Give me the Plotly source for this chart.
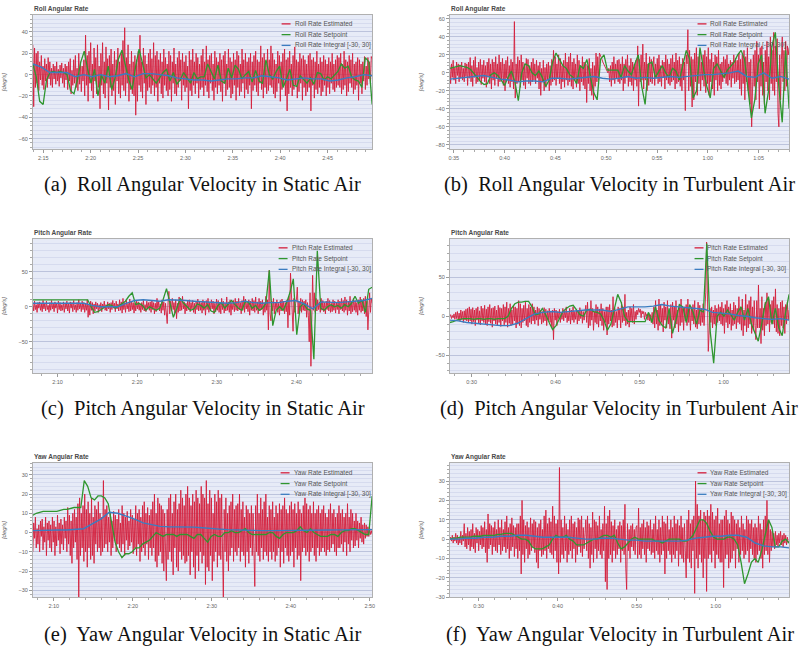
import numpy as np
import plotly.graph_objects as go

W, H = 807, 651

# ------------------------------------------------------------------ data
# (a) roll, static air  -- time in seconds
roll_static_span = [133.9, 169.7]
roll_static_est = [
    28, -30, 25, -12, 20, -8, 22, -15, 12, -5, 18, -10, 8, -14, 15, -6, 10, -12, 16, -4,
    12, -10, 6, -12, 10, -4, 8, -9, 12, -6, 5, -11, 9, -3, 11, -8, 6, -12, 10, -5,
    8, -14, 12, -6, 15, -18, 4, -10, 14, -8, 18, -12, 6, -15, 20, -9, 12, -16, 8, -6,
    14, -20, 37, -10, 18, -25, 22, -8, 30, -15, 10, -22, 25, -6, 16, -18, 28, -12, 8, -32,
    20, -10, 30, -18, 12, -22, 26, -8, 15, -33, 18, -12, 24, -20, 10, -15, 22, -28, 14, -6,
    25, -18, 12, -22, 20, -10, 32, -15, 44, -20, 16, -8, 28, -25, 10, -14, 22, -18, 12, -20,
    18, -38, 14, -25, 22, -10, 37, -16, 12, -22, 25, -8, 18, -28, 10, -15, 20, -12, 24, -18,
    15, -10, 30, -20, 18, -12, 22, -25, 14, -8, 20, -18, 12, -22, 24, -10, 16, -15, 10, -20,
    22, -14, 18, -25, 12, -8, 25, -18, 10, -20, 16, -12, 22, -6, 14, -24, 20, -10, 12, -16,
    18, -12, 8, -32, 22, -15, 14, -20, 24, -10, 12, -18, 20, -8, 16, -22, 10, -14, 18, -12,
    24, -20, 12, -10, 27, -16, 14, -22, 18, -8, 20, -15, 10, -24, 22, -12, 16, -18, 12, -10,
    20, -16, 14, -25, 18, -8, 22, -20, 10, -14, 24, -12, 16, -22, 12, -18, 20, -10, 14, -24,
    22, -12, 18, -20, 10, -16, 24, -8, 14, -22, 20, -14, 12, -18, 16, -10, 20, -32, 12, -15,
    18, -10, 22, -16, 14, -20, 12, -8, 27, -14, 16, -22, 20, -12, 10, -18, 24, -15, 14, -10,
    27, -12, 20, -18, 14, -22, 10, -16, 22, -8, 18, -25, 12, -14, 20, -10, 24, -20, 14, -34,
    16, -18, 22, -12, 10, -20, 18, -14, 26, -10, 14, -22, 12, -16, 20, -8, 15, -24, 18, -12,
    14, -20, 10, -16, 18, -12, 20, -34, 14, -10, 16, -22, 12, -14, 22, -18, 10, -12, 16, -20,
    12, -16, 18, -10, 14, -20, 10, -12, 16, -18, 12, -8, 20, -14, 10, -16, 14, -12, 18, -10,
    16, -12, 20, -18, 10, -14, 22, -10, 14, -20, 12, -16, 18, -8, 14, -12, 20, -18, 10, -14,
    12, -10, 16, -24, 14, -8, 10, -18, 12, -6, 17, -14, 8, -10, 16, -4, 12, -8, 17, 15]
roll_static_sp = [
    10, -2, -25, -28, -5, 2, 3, 2, 3, 2, 0, -15, -18, -5, 12, 22, 5, -8, 5, -20,
    0, -8, 8, -14, -3, 15, 23, 10, -5, -14, 8, 24, 10, -3, 0, -4, -8, -3, 2, 5,
    -6, 2, -9, -5, 2, -3, -8, 2, -4, -2, -2, 10, 3, -4, 9, -6, -8, 6, -3, 9,
    5, -4, 0, 3, -7, 4, -6, -8, 14, 0, -4, 3, 8, -12, -4, 5, -10, -11, -1, -5,
    -8, -3, -9, 2, 1, -5, -2, -4, 0, 3, 10, 6, 8, -2, -5, -6, -12, 16, 12, -28]
roll_static_int = [10, 7, 2, 2, 2, -2, 0, -2, 0, -2, -1, 1, -2, 1, 1, 0, -1, -3, -4, -5, -5,
                   -6, -5, -4, -4, -3, -3, -1, -2, -3, -5, -4, -3, -4, -4, -6, -5, -3, -2, 0, -1]

# (b) roll, turbulent air
roll_turb_span = [34.6, 68.0]
roll_turb_est = [
    8, -12, 10, -5, 14, -8, 6, -12, 12, -3, 10, -10, 9, -6, 12, -8, 5, -10, 11, -4,
    10, -14, 12, -6, 17, -10, 8, -15, 14, -5, 18, -12, 6, -10, 12, -8, 15, -13, 9, -6,
    14, -10, 8, -16, 12, -5, 16, -12, 10, -18, 15, -8, 12, -14, 18, -6, 10, -15, 20, -10,
    12, -8, 16, -14, 10, -20, 14, -6, 18, -12, 8, -16, 15, -10, 12, -18, 57, -28, 10, -12,
    18, -10, 14, -16, 20, -8, 12, -14, 10, -18, 16, -6, 15, -12, 8, -14, 12, -10, 16, -8,
    10, -12, 14, -6, 8, -18, 12, -25, 5, -10, 14, -20, 6, -16, 10, -8, 12, -20, 8, -14,
    15, -10, 25, -8, 18, -14, 10, -6, 20, -12, 16, -18, 8, -10, 14, -16, 22, -8, 12, -14,
    18, -10, 22, -15, 12, -18, 16, -8, 10, -16, 20, -12, 14, -20, 8, -10, 18, -14, 12, -18,
    10, -33, 8, -12, 16, -20, 5, -25, 12, -30, 8, -15, 22, -10, 18, -8, 22, 20, 18, 15,
    12, 10, 8, 6, 4, 2, 0, 5, -10, 8, -15, 12, -8, 18, -12, 10, -6, 14, -10, 15,
    -12, 10, -8, 18, -20, 10, -12, 15, -5, 20, -15, 8, -10, 16, -14, 12, -20, 10, -8, 14,
    -15, 30, -37, 15, -10, 20, -8, 32, -18, 12, -8, 22, -20, 10, -14, 18, -10, 15, -12, 8,
    18, -14, 10, -6, 16, -12, 20, -10, 8, -15, 14, -5, 12, -18, 20, -8, 15, -12, 10, -14,
    16, -10, 20, -8, 12, -18, 22, -12, 14, -10, 18, -15, 10, -20, 16, -8, 12, -42, 20, 10,
    48, -20, 25, -15, 18, -38, 15, -30, 22, -10, 28, -25, 18, -12, 25, -20, 12, -8, 20, -15,
    25, -22, 18, -12, 28, -25, 15, -10, 22, -18, 12, -25, 20, -8, 18, -20, 25, -14, 10, -18,
    12, -10, 18, -6, 15, -12, 20, -14, 10, -8, 14, -16, 12, -6, 20, -12, 16, -10, 14, -8,
    22, -18, 15, -25, 20, -12, 25, -30, 18, -10, 28, -20, 12, -35, 15, -60, -20, 20, -15, 25,
    -30, 35, -10, 20, -40, 28, -15, 30, -25, 12, -35, 25, -10, 35, -20, 18, -30, 40, -12, 25,
    -20, 45, -25, 30, -10, 38, -45, -60, 20, -30, 15, 40, -10, 25, -20, 35, -15, 30, 20, 28]
roll_turb_sp = [
    5, 6, 7, 8, 7, 6, 4, 0, -5, -10, -13, -12, -2, 0, -3, -8, -14, -5, 2, -10,
    -31, 0, 10, 8, 0, -3, 2, -5, -15, -8, 12, 22, 15, 8, 5, -2, -5, -12, 8, 5,
    15, -5, -22, -30, 15, 20, 3, 3, 3, 3, -5, 8, 2, -2, 10, 20, -15, -35, 10, 12,
    -5, 2, 8, 0, -5, 5, 2, -8, 10, 25, 15, -28, -20, 28, 5, -15, -28, 5, 10, 2,
    -5, 3, 8, 12, 20, 25, 15, -15, -50, -30, 10, 20, -45, -20, 30, 45, -15, -55, 25, -40]
roll_turb_int = [-7, -6, -5, -4, -3, -5, -7, -8, -10, -9, -9, -10, -6, -6, -7, -6, -5, -4, -6, -7, -6,
                 -4, -6, -5, -6, -5, -4, -5, -4, -3, -2, -2, -1, 0, 2, -4, -5, 0, -6, -4, -7]

# (c) pitch, static air
pitch_static_span = [126.9, 169.5]
pitch_static_est = [
    5, -6, 8, -4, 3, -8, 6, -2, 7, -5, 4, -7, 9, -3, 5, -6, 8, -4, 2, -8,
    6, -5, 9, -3, 4, -7, 7, -2, 5, -9, 8, -4, 6, -6, 3, -5, 7, -8, 4, -3,
    8, -6, 5, -9, 7, -2, 6, -7, 9, -4, 3, -8, 6, -5, 10, -3, 5, -7, 8, -4,
    6, -8, 4, -5, 10, -15, 3, -12, 8, -5, 6, -10, 4, -6, 7, -3, 5, -8, 3, -4,
    6, -7, 4, -2, 8, -5, 3, -6, 7, -3, 5, -8, 6, -4, 9, -2, 5, -7, 8, -3,
    4, -6, 10, -5, 7, -9, 12, -4, 6, -8, 9, -3, 5, -7, 11, -6, 8, -4, 6, -9,
    5, -6, 8, -3, 7, -5, 4, -8, 6, -4, 9, -6, 3, -7, 8, -2, 6, -5, 7, -8,
    9, -4, 6, -10, 5, -7, 12, -3, 8, -6, 4, -9, 10, -5, 7, -12, 5, -8, -24, 6,
    22, -10, 8, -6, 12, -4, 6, -9, 10, -17, 5, -8, 14, -6, 9, -5, 15, -3, 7, -10,
    5, -6, 8, -4, 10, -7, 6, -3, 9, -8, 5, -10, 7, -4, 11, -6, 8, -5, 6, -9,
    10, -5, 7, -12, 9, -4, 12, -8, 6, -6, 10, -3, 8, -10, 5, -7, 11, -5, 9, -8,
    6, -10, 12, -4, 8, -9, 5, -6, 14, -5, 7, -8, 10, -12, 6, -4, 9, -7, 12, -5,
    8, -6, 12, -4, 6, -10, 9, -5, 15, -8, 11, -3, 6, -7, 10, -12, 8, -5, 12, -6,
    9, -8, 14, -5, 7, -10, 12, -6, 8, -4, 10, -12, 6, -8, 15, -5, 10, -33, 52, -10,
    -20, 8, -6, 12, -10, 6, -4, 10, -8, 5, -12, 9, -6, 11, -5, 8, -10, 6, -7, 10,
    -30, 15, -12, 48, 20, -15, -35, 12, -8, 5, 10, 28, -10, 8, -6, 12, -8, 10, -5, 8,
    -6, 10, -15, 6, -12, -50, 20, -85, 10, 45, -5, 20, -8, 12, -6, 10, -4, 7, -8, 12,
    -5, 9, -7, 6, -10, 8, -4, 12, -6, 9, -8, 5, -7, 10, -5, 8, -9, 6, -4, 10,
    -10, 8, -4, 12, -6, 9, -8, 14, -5, 10, -12, 8, -6, 15, -10, 8, -7, 12, -5, 9,
    -8, 6, -12, 10, -5, 14, -8, 9, -6, 12, -10, 15, -14, 8, -33, 12, 20, -8, 12, 5]
pitch_static_sp = [
    10, 10, 10, 10, 10, 10, 10, 10, 10, 10, 10, 10, 10, 10, 10, 10, 10, 0, -8, -7,
    -4, 0, 3, 2, -2, 1, 4, 8, 15, 20, 3, 5, 2, -5, 0, -2, -5, -2, 10, 26,
    5, -15, -2, 12, 5, 0, -5, -3, 4, 2, -2, 3, -6, -8, 2, 6, -2, 4, 9, 3,
    -2, -5, 8, 6, -2, 2, -5, -2, 5, 52, -27, -5, 0, -5, 5, 20, 40, -40, 0, 5,
    -3, -5, -75, 80, -2, -5, 0, 3, 0, 2, -2, 3, 0, 5, 15, 5, 10, -8, 25, 28]
pitch_static_int = [5, 5, 5, 5, 5, 5, 5, 2, 0, 0, 0, 5, 9, 10, 9, 8, 10, 10, 9, 8, 7,
                    6, 6, 5, 6, 8, 6, 5, 6, 6, 8, 9, 4, -3, 7, 6, 6, 7, 8, 9, 12]

# (d) pitch, turbulent air
pitch_turb_span = [27.4, 67.8]
pitch_turb_est = [
    0, 2, -3, 1, -2, 3, -4, 5, -3, 6, -5, 4, -6, 8, -4, 6, -8, 7, -5, 9,
    -6, 10, -8, 12, -6, 9, -10, 11, -7, 8, -12, 10, -5, 12, -9, 7, -11, 13, -6, 10,
    -8, 14, -10, 9, -12, 12, -7, 15, -9, 10, -14, 11, -6, 13, -10, 8, -12, 14, -8, 11,
    -13, 10, -6, 15, -11, 12, -8, 18, -14, 10, -9, 16, -12, 8, -10, 14, -6, 12, -15, 10,
    -10, 20, -12, 16, -15, 10, -8, 14, -6, 18, -12, 10, -14, 15, -8, 12, -10, 16, -6, 12,
    -10, 8, -5, 12, -12, 10, -4, 8, -10, 6, -8, 11, -6, 9, -12, 7, -5, 10, -8, 6,
    -15, 8, -30, 10, -5, 8, -12, 6, -3, 9, -8, 5, -4, 10, -6, 7, -2, 12, -8, 5,
    -6, 10, -10, 8, -5, 12, -8, 6, -4, 9, -10, 7, -6, 11, -3, 8, -9, 6, -5, 10,
    14, -8, 18, -15, 8, -12, 20, -5, 10, -18, 6, -8, 15, -10, 12, -14, 9, -6, 16, -12,
    10, -18, 6, -8, 12, -24, 12, -10, 15, -6, 8, -14, 25, -12, 10, -8, 6, -15, 12, -5,
    10, -15, 18, -8, 12, -6, 28, -12, 5, -10, 8, -14, 12, -6, 10, -8, 15, -10, 6, -4,
    8, 2, 10, 5, 9, -2, 7, 3, 6, -4, 5, 0, 3, -5, 4, -6, 2, -8, 5, -10,
    12, -15, 20, -10, 8, -18, 22, -12, 15, -8, 10, -20, 18, -5, 12, -15, 20, -10, 8, -16,
    15, -28, 18, -5, 12, -15, 20, -10, 8, -20, 15, -12, 22, -8, 10, -18, 12, -6, 15, -12,
    22, -8, 10, -18, 12, -6, 15, -10, 20, -14, 8, -16, 18, -10, 14, -12, 10, -8, 16, -12,
    12, 30, 95, 40, -45, -20, 10, -8, 12, -15, 8, -10, 14, -12, 10, -8, 15, -6, 12, -10,
    18, -12, 10, -22, 15, -8, 20, -15, 12, -10, 16, -18, 8, -12, 18, -10, 14, -16, 10, -8,
    25, -10, 12, -18, 22, -25, 8, -12, 28, -20, 15, -15, 20, -10, 25, -22, 12, -18, 20, -12,
    -30, 20, -15, 40, -15, 10, -35, 25, -18, 10, -25, 18, -12, 30, -10, 22, -20, 15, -8, 20,
    -10, 25, -15, 35, -20, 15, -22, 10, -25, 18, -12, 20, -15, 12, -22, 15, -10, 18, -5, 8]
pitch_turb_sp = [
    -8, -7, -5, -4, -3, -3, -3, -4, -3, -3, -4, -3, -3, -4, -3, -3, -3, 0, 10, 16,
    18, 18, 19, 19, 12, 2, 3, 10, 2, -8, -17, -12, -3, 6, 10, 13, 14, 8, 2, 0,
    8, 9, 6, 5, 3, -5, -18, -10, 10, 28, 18, 0, -7, -7, -7, -7, -7, -7, 5, -8,
    12, -5, -12, -15, 10, -22, -5, 15, 12, -8, 15, 5, -10, 8, 5, 93, -20, -60, 0, 5,
    0, 8, 2, -5, 5, 12, -5, 10, -10, -20, -32, -10, 15, 25, -10, 10, -15, -25, 5, 28]
pitch_turb_int = [-5, -6, -8, -9, -10, -11, -12, -12, -9, -3, 3, 5, 6, 5, 6, 7, 8, 8, 8, 6, 9,
                  12, 12, 12, 13, 15, 13, 12, 11, 10, 9, 5, 4, 3, 1, 0, -2, -3, -4, -3, -5]

# (e) yaw, static air
yaw_static_span = [127.35, 170.3]
yaw_static_est = [
    -10, 5, -3, 8, -8, 2, -6, 4, -10, 6, -2, 7, -9, 3, -5, 8, -12, 5, -4, 6,
    -8, 4, -10, 8, -5, 6, -12, 3, -7, 9, -4, 5, -11, 7, -6, 4, -9, 8, -3, 6,
    -10, 13, -6, 9, -12, 6, -16, 10, -8, 12, -5, 8, -14, 15, -34, 18, -12, 10, -8, 14,
    -15, 20, -10, 12, -18, 16, -8, 10, -14, 18, -12, 8, -16, 14, -6, 12, -10, 16, -8, 10,
    -12, 8, -10, 27, -8, 12, -6, 14, -10, 8, -5, 10, -12, 6, -8, 11, -4, 9, -10, 7,
    -6, 12, -8, 5, -10, 14, -6, 10, -12, 8, -4, 11, -9, 6, -7, 12, -5, 9, -11, 7,
    -8, 14, -12, 10, -6, 12, -15, 8, -10, 14, -8, 16, -12, 10, -6, 13, -14, 9, -8, 12,
    -12, 16, -8, 20, -15, 10, -18, 18, -12, 15, -10, 14, -16, 12, -20, 10, -8, -25, 12, -14,
    18, -10, 20, -15, 10, -22, 16, -8, 20, -18, 12, -20, 15, -10, 22, -14, 18, -12, 14, -16,
    20, -15, 24, -12, 18, -22, 14, -10, 20, -18, 16, -24, 22, -12, 18, -20, 15, -10, 24, -16,
    20, -12, 18, -27, 27, -18, 15, -20, 22, -12, 18, -25, 10, -15, 20, -10, 16, -18, 22, -12,
    18, -14, 20, -10, -34, 12, -10, 18, -15, 10, -20, 14, -12, 16, -8, 20, -15, 12, -10, 14,
    -12, 15, -8, 20, -15, 12, -10, 16, -12, 8, -18, 14, -10, 12, -16, 10, -8, 14, -12, 10,
    -18, -28, 14, -10, 20, -12, 10, -15, 18, -8, 12, -14, 16, -10, 20, -12, 8, -15, 14, -10,
    12, -14, 16, -10, 8, -15, 14, -12, 10, -8, 15, -18, 12, -10, 14, -16, 18, -8, 12, -12,
    10, -15, 14, -12, 16, -10, 12, -18, 15, -8, 10, -14, 16, -12, 12, -25, 10, -10, 14, -8,
    18, -12, 15, -10, 12, -15, 14, -10, 10, -8, 16, -12, 10, -15, 12, -8, 14, -12, 10, -10,
    12, -8, 14, -10, 10, -12, 8, -9, 12, -10, 15, -8, 10, -6, 12, -10, 8, -12, 10, -8,
    14, -8, 10, -6, 12, -10, 8, -5, 10, -12, 15, -6, 8, -10, 12, -4, 10, -8, 6, -7,
    10, -4, 6, -8, 5, -3, 8, -5, 4, -6, 5, -3, 4, -2, 3, -2, 2, -1, 1, -1]
yaw_static_sp = [
    9, 10, 10.5, 11, 11, 11, 11, 11, 11.5, 12, 12, 12.5, 13, 13, 13, 27, 24, 18, 17, 19,
    19, 18, 15, 5, -5, -10, -13, -11, -11, -10, -8, -8, -6, -5, -4, -2, 0, -1, -2, -1,
    -1, -1, -2, -1, -1, -1, -2, -3, -1, -1, -3, -5, -2, -1, -2, -2, 0, 0, 1, 0,
    0, 1, 2, 0, -1, -1, -1, -1, -1, 0, 0, -2, -3, -1, 0, 0, 0, 1, 3, 1,
    0, 2, 0, -1, -2, -2, -2, -1, -1, -2, 0, 1, 1, 2, 2, 1, 0, -1, -1, 19]
yaw_static_int = [1, 1.2, 1.3, 1.3, 1.3, 1.5, 2, 4.5, 7, 10.5, 10, 8.5, 7, 5, 4, 3.2, 3, 3, 3, 2.8, 2.5,
                  2, 1.8, 1.5, 1.3, 1.2, 1.2, 1, 1, 1, 1, 1, 1, 1.2, 1.2, 1.3, 1.4, 1.4, 1.5, 1.5, 1.5]

# (f) yaw, turbulent air
yaw_turb_span = [26.35, 69.3]
yaw_turb_est = [
    0, 1, -1, 2, -2, 1, -1, 3, -2, 2, -3, 1, -2, 4, -3, 2, -1, 8, -4, 3,
    -5, 6, -3, 4, -6, 5, -4, 8, -5, 3, -7, 6, -2, 5, -6, 4, -3, 7, -5, 6,
    -4, 9, -7, 5, -12, 13, -5, 8, -3, 7, -8, 6, -4, 9, -6, 5, -7, 10, -3, 6,
    -8, 10, -6, 5, -4, 9, -7, 12, -5, 6, -10, 8, -6, 11, -4, 7, -9, 6, -5, 8,
    -10, 8, -6, 12, -18, 20, -8, 10, -12, 7, -5, 9, -10, 6, -8, 11, -6, 8, -4, 10,
    -7, 9, -12, 6, -15, 8, -6, 10, -9, 5, -8, 12, -6, 15, -10, 8, -5, 11, -7, 9,
    -8, 17, -10, 12, -6, 8, -12, 10, -18, 37, -12, 10, -8, 6, -10, 12, -6, 8, -12, 5,
    -8, 10, -6, 12, -10, 8, -5, 9, -12, 6, -8, 11, -4, 10, -7, 12, -9, 6, -5, 8,
    10, -6, 12, -10, 8, -15, 6, -8, 14, -12, 10, -5, 9, -10, 7, -6, 12, -8, 5, -10,
    8, -6, 17, -22, 8, -26, 12, -10, 15, -8, 9, -12, 7, -6, 10, -10, 5, -8, 7, -5,
    9, -12, 7, -6, 10, -8, 18, -15, -26, 8, -6, 5, -10, 7, -4, 8, -6, 5, -8, 6,
    7, -10, 16, -8, 6, -10, 8, -5, 10, -8, 6, -12, 9, -5, 7, -6, 10, -8, 5, -7,
    8, -10, 12, -6, 5, -8, 10, -12, 6, -8, 12, -6, 9, -18, 8, -10, 12, -6, 5, -8,
    10, -12, 6, -8, 12, -10, 8, -6, 10, -14, 7, -8, 12, -10, 6, -12, 8, -6, -20, 10,
    -10, 15, -12, 8, -15, 10, -6, 12, -28, 30, -10, 18, -15, 12, -8, 15, -12, 10, -20, 14,
    -10, 12, -27, 15, -10, 12, -8, 18, -12, 14, -6, 10, -15, 12, -8, 16, -10, 8, -12, 10,
    -12, 10, -25, 12, -10, 15, -8, 10, -15, 8, -12, 14, -10, 12, -6, 10, -15, 8, -5, 10,
    -12, 6, -8, 12, -6, 8, -10, 5, -8, 12, -6, 10, -12, 8, -5, 10, -8, 6, -10, 8,
    -12, 6, -8, 12, -6, 8, -10, 5, -15, 10, -8, 12, -6, 20, -8, 10, -12, 5, -6, 4,
    -4, 3, -5, 4, -3, 2, -4, 3, -2, 4, -3, 2, -4, 3, -2, 2, -3, 1, -2, -1]
yaw_turb_sp = [
    0, 0.5, 0.5, 1, 1, 1, 1, 1.5, 1.5, 1.5, 2, 2, 2, 2, 2.5, 2.5, 3, 3, 3, 2,
    1, 0, 0, -1, -4, -5, -5, -5, -4, -3, 0, 2, 1, 1, 2, 0, -1, -3, -3, -3,
    -2, -1, 0, 0, 1, 2, 2, 1, 2, -2, -5, -4, -2, 0, 1, 0, 0, 0, 0, 0,
    -1, -1, -2, -1, 0, 0, 0, 0, -1, -1, 0, 2, 6, 10, 10, 8, 4, 1, 0, 0,
    0, 1, 1, 0, -3, -12, -23, -18, -12, -10, -12, -6, 3, 10, 6, -4, -4, -1, 0, -2]
yaw_turb_int = [0, 0, 0.5, 0.5, 1, 1, 1.5, 1.5, 2, 2, 1.5, 1, 1, 1, 1, 0.5, 0, 0, 0.5, 0.5, 0,
                -0.5, -0.5, -1, -1, -1, -1, -1, -0.5, 0.5, 1, 1.5, 1.5, 2, 2, 1, -2, -3.5, -4, -4, -4.5]

# tick labels (m:ss)
ticks_roll_static = [135, 140, 145, 150, 155, 160, 165]
labels_roll_static = ["2:15", "2:20", "2:25", "2:30", "2:35", "2:40", "2:45"]
ticks_roll_turb = [35, 40, 45, 50, 55, 60, 65]
labels_roll_turb = ["0:35", "0:40", "0:45", "0:50", "0:55", "1:00", "1:05"]
ticks_pitch_static = [130, 140, 150, 160]
labels_pitch_static = ["2:10", "2:20", "2:30", "2:40"]
ticks_pitch_turb = [30, 40, 50, 60]
labels_pitch_turb = ["0:30", "0:40", "0:50", "1:00"]
ticks_yaw_static = [130, 140, 150, 160, 170]
labels_yaw_static = ["2:10", "2:20", "2:30", "2:40", "2:50"]
ticks_yaw_turb = [30, 40, 50, 60]
labels_yaw_turb = ["0:30", "0:40", "0:50", "1:00"]

captions = [
    "(a)\u00a0 Roll Angular Velocity in Static Air",
    "(b)\u00a0 Roll Angular Velocity in Turbulent Air",
    "(c)\u00a0 Pitch Angular Velocity in Static Air",
    "(d)\u00a0 Pitch Angular Velocity in Turbulent Air",
    "(e)\u00a0 Yaw Angular Velocity in Static Air",
    "(f)\u00a0 Yaw Angular Velocity in Turbulent Air",
]

# ------------------------------------------------------------------ layout config
RED, GREEN, BLUE = "#d41f3c", "#2f962f", "#3b7cc0"
BG, GRID, MINOR_GRID = "#e7ebf7", "#bcc3dc", "#d6dbee"
SANS, SERIF = "Liberation Sans, Arial, sans-serif", "Liberation Serif, Times New Roman, serif"


def px(x):
    return x / W


def py(y):
    return 1 - y / H


panels = [
    dict(axis="Roll", est=roll_static_est, sp=roll_static_sp, it=roll_static_int, span=roll_static_span,
         tv=ticks_roll_static, tl=labels_roll_static, yr=[-70, 56], dt=20, ymin=4, xmin=1,
         box=(32, 373, 15, 150), leg=(294, 24)),
    dict(axis="Roll", est=roll_turb_est, sp=roll_turb_sp, it=roll_turb_int, span=roll_turb_span,
         tv=ticks_roll_turb, tl=labels_roll_turb, yr=[-85, 64.4], dt=20, ymin=4, xmin=1,
         box=(451, 792, 15, 150), leg=(712, 24)),
    dict(axis="Pitch", est=pitch_static_est, sp=pitch_static_sp, it=pitch_static_int, span=pitch_static_span,
         tv=ticks_pitch_static, tl=labels_pitch_static, yr=[-95, 97], dt=50, ymin=10, xmin=2,
         box=(32, 373, 240, 375), leg=(291, 249)),
    dict(axis="Pitch", est=pitch_turb_est, sp=pitch_turb_sp, it=pitch_turb_int, span=pitch_turb_span,
         tv=ticks_pitch_turb, tl=labels_pitch_turb, yr=[-73, 99], dt=50, ymin=10, xmin=2,
         box=(451, 792, 240, 375), leg=(709, 249)),
    dict(axis="Yaw", est=yaw_static_est, sp=yaw_static_sp, it=yaw_static_int, span=yaw_static_span,
         tv=ticks_yaw_static, tl=labels_yaw_static, yr=[-33.6, 36.2], dt=10, ymin=2, xmin=2,
         box=(32, 373, 465, 600), leg=(293, 475)),
    dict(axis="Yaw", est=yaw_turb_est, sp=yaw_turb_sp, it=yaw_turb_int, span=yaw_turb_span,
         tv=ticks_yaw_turb, tl=labels_yaw_turb, yr=[-30, 39.4], dt=10, ymin=2, xmin=2,
         box=(451, 792, 465, 600), leg=(712, 475)),
]
caption_pos = [(203, 185), (622, 185), (203, 410), (621, 410), (203, 637), (622, 637)]

fig = go.Figure()
annotations = []
shapes = []
layout_axes = {}

for k, p in enumerate(panels):
    n = k + 1
    xr = f"x{n}" if n > 1 else "x"
    yr_ = f"y{n}" if n > 1 else "y"
    t0, t1 = p["span"]
    series = [
        (p["est"], RED, 0.9, f"{p['axis']} Rate Estimated"),
        (p["sp"], GREEN, 1.3, f"{p['axis']} Rate Setpoint"),
        (p["it"], BLUE, 1.4, f"{p['axis']} Rate Integral [-30, 30]"),
    ]
    for vals, col, lw, name in series:
        t = np.linspace(t0, t1, len(vals))
        fig.add_trace(go.Scatter(x=t, y=vals, xaxis=xr, yaxis=yr_, mode="lines", name=name,
                                 line=dict(color=col, width=lw), showlegend=False,
                                 hoverinfo="skip"))
    x0, x1, ytop, ybot = p["box"]
    layout_axes[f"xaxis{n}" if n > 1 else "xaxis"] = dict(
        domain=[px(x0), px(x1)], range=[t0, t1], anchor=yr_,
        tickmode="array", tickvals=p["tv"], ticktext=p["tl"],
        ticks="outside", ticklen=3, tickcolor="#9a9a9a", tickwidth=0.8,
        tickfont=dict(family=SANS, size=5.5, color="#666"),
        showgrid=False, zeroline=False, showline=True, linecolor="#b0b0b0", linewidth=0.8, mirror=True,
        minor=dict(tickmode="linear", tick0=0, dtick=p["xmin"], ticks="outside", ticklen=2,
                   tickcolor="#aaaaaa", tickwidth=0.6, showgrid=False),
    )
    layout_axes[f"yaxis{n}" if n > 1 else "yaxis"] = dict(
        domain=[py(ybot), py(ytop)], range=p["yr"], anchor=xr,
        tickmode="linear", tick0=0, dtick=p["dt"],
        ticks="outside", ticklen=3, tickcolor="#9a9a9a", tickwidth=0.8,
        tickfont=dict(family=SANS, size=5.5, color="#666"),
        showgrid=True, gridcolor=GRID, gridwidth=0.8, zeroline=False,
        showline=True, linecolor="#b0b0b0", linewidth=0.8, mirror=True,
        minor=dict(tickmode="linear", tick0=0, dtick=p["ymin"], ticks="outside", ticklen=2,
                   tickcolor="#aaaaaa", tickwidth=0.6, showgrid=True, gridcolor=MINOR_GRID,
                   gridwidth=0.6),
        title=dict(text="[deg/s]", standoff=11,
                   font=dict(family=SANS, size=6, color="#555", style="italic")),
    )
    # panel title
    annotations.append(dict(text=f"<b>{p['axis']} Angular Rate</b>", xref="paper", yref="paper",
                            x=px(x0 - 1), y=py(ytop - 6), xanchor="left", yanchor="middle",
                            showarrow=False, font=dict(family=SANS, size=6.5, color="#4a4a4a")))
    # legend (drawn inside the plot, top-right)
    lx, ly = p["leg"]
    for j, (_, col, lw, name) in enumerate(series):
        yy = ly + 10.8 * j
        shapes.append(dict(type="line", xref="paper", yref="paper",
                           x0=px(lx - 12), x1=px(lx - 3), y0=py(yy), y1=py(yy),
                           line=dict(color=col, width=1.3)))
        annotations.append(dict(text=name, xref="paper", yref="paper", x=px(lx - 1), y=py(yy),
                                xanchor="left", yanchor="middle", showarrow=False,
                                font=dict(family=SANS, size=6.5, color="#555")))
    # caption
    cx, cy = caption_pos[k]
    annotations.append(dict(text=captions[k], xref="paper", yref="paper",
                            x=px(cx), y=py(cy),
                            xanchor="center", yanchor="middle", showarrow=False,
                            font=dict(family=SERIF, size=20.5, color="#111")))

fig.update_layout(
    width=W, height=H, margin=dict(l=0, r=0, t=0, b=0),
    paper_bgcolor="white", plot_bgcolor=BG, showlegend=False,
    annotations=annotations, shapes=shapes, **layout_axes,
)

# the page body has a default 8px margin; remove it so the figure sits at (0, 0)
fig.write_html("out.html", config={"displayModeBar": False},
               post_script="document.body.style.margin='0';document.body.style.overflow='hidden';")
